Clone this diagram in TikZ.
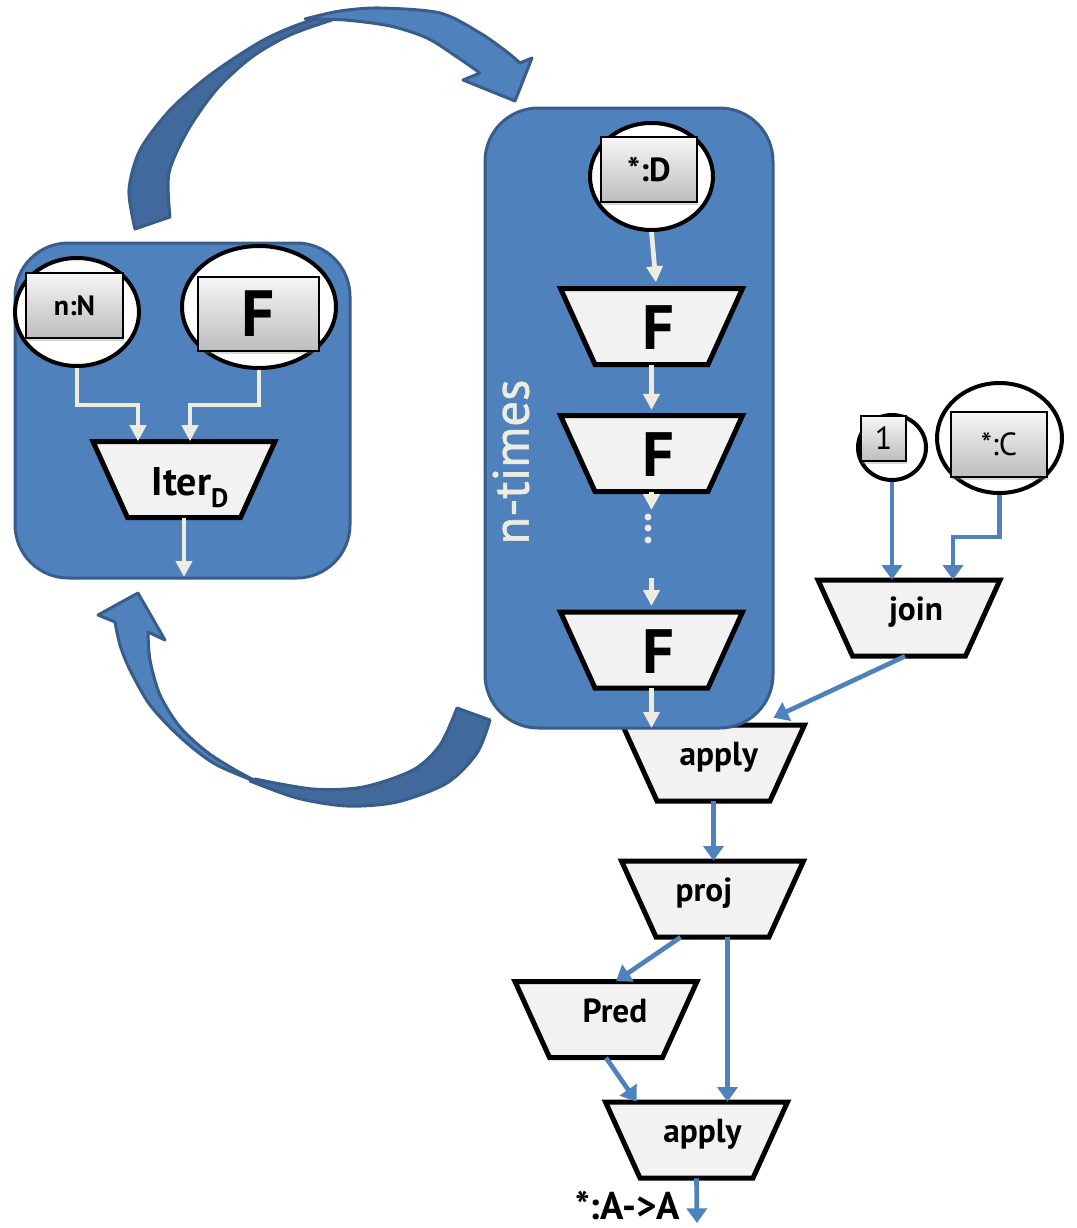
\documentclass[tikz,border=0pt]{standalone}
\usepackage{fontspec}
\setmainfont{PT Sans}
\newfontfamily\heavierfont[FakeBold=1.2]{PT Sans}
\usetikzlibrary{arrows.meta,calc,shapes.geometric,shadows}

\definecolor{boxblue}{HTML}{4F81BD}
\definecolor{boxedge}{HTML}{385D8A}
\definecolor{backblue}{HTML}{41699B}
\definecolor{paper}{HTML}{EEECE1}
\definecolor{trapgray}{HTML}{F2F2F2}
\definecolor{tagtop}{HTML}{F6F6F6}
\definecolor{tagbot}{HTML}{BDBDBD}

\tikzset{
  panel/.style={fill=boxblue, draw=boxedge, line width=2.25pt, rounded corners=40pt, inner sep=0pt},
  bandfront/.style={fill=boxblue, draw=boxedge, line width=2.25pt, line join=round},
  bandback/.style={fill=backblue, draw=boxedge, line width=2.25pt, line join=round},
  trapline/.style={fill=trapgray, draw=black, line width=3.75pt},
  trapbox/.style={minimum width=136.5pt, minimum height=57pt, inner sep=0pt,
                  text height=18pt, text depth=14pt, font=\fontsize{25}{30}\selectfont\bfseries},
  bigF/.style={text height=36pt, text depth=1pt, font=\fontsize{47}{50}\selectfont\bfseries},
  src/.style={ellipse, fill=white, draw=black, line width=3pt, inner sep=0pt},
  tag/.style={draw=black, line width=1.2pt, top color=tagtop, bottom color=tagbot, inner sep=0pt,
              drop shadow={opacity=0.3, shadow xshift=1pt, shadow yshift=-2pt}},
  lightflow/.style={draw=paper, line width=3.5pt, -{Triangle[length=12pt,width=12pt]}},
  blueflow/.style={draw=boxblue, line width=3.5pt, -{Triangle[length=11pt,width=15pt]}},
}

% trapezoid operator box: name, centre x, centre y, extra node options, label
\newcommand{\trapnode}[5]{%
  \draw[trapline] (#2-91,#3-38) -- (#2+91,#3-38) -- (#2+56.5,#3+38) -- (#2-56.5,#3+38) -- cycle;
  \node[trapbox,#4] (#1) at (#2,#3) {#5};}

\begin{document}
\begin{tikzpicture}[x=0.75pt,y=-0.75pt]
\useasboundingbox (0,0) rectangle (1076,1228);

% ---- upper curved arrow (left panel -> n-times panel)
\filldraw[bandback]
  plot[smooth] coordinates {(135,229) (129,190) (140,150) (170,110) (210,75) (260,42) (300,24) (345,12) (380,9)}
  -- plot[smooth] coordinates {(335,19) (290,35) (252,57) (217,89) (188,130) (169,173) (170,217)}
  -- cycle;
\filldraw[bandfront]
  plot[smooth] coordinates {(305,19) (340,11) (380,8) (440,13) (480,33) (507,52) (520,63)}
  -- (532,58) -- (515,101) -- (463,80)
  -- plot[smooth] coordinates {(480,73) (457,57) (427,38) (390,26) (345,20) (305,19)}
  -- cycle;

% ---- lower curved arrow (n-times panel -> left panel)
\filldraw[bandback]
  plot[smooth] coordinates {(490,720) (477,753) (447,783) (397,802) (347,806) (297,798) (250,781)}
  -- plot[smooth] coordinates {(255,779) (313,789) (363,787) (413,770) (440,745) (457,708)}
  -- cycle;
\filldraw[bandfront]
  plot[smooth] coordinates {(262,784) (215,764) (180,737) (150,705) (130,670) (120,645) (115,622)}
  -- (98,615) -- (138,593) -- (165,640)
  -- plot[smooth] coordinates {(148,632) (150,660) (160,695) (180,727) (207,752) (237,771) (262,784)}
  -- cycle;

% ---- left panel: Iter_D
\node[panel, minimum width=251.25pt, minimum height=251.25pt] (iterpanel) at (182.5,410.5) {};

\node[src, minimum width=93pt, minimum height=81pt] (nN) at (77,312) {};
\node[tag, minimum width=72.75pt, minimum height=48.75pt, font=\fontsize{21}{24}\selectfont\bfseries]
  (nNlab) at (74.5,305.5) {n:N};
\node[src, minimum width=115.5pt, minimum height=91.5pt] (Fe) at (259,307) {};
\node[tag, minimum width=90.75pt, minimum height=55.5pt, font=\fontsize{49}{52}\selectfont\bfseries]
  (Felab) at (258.5,314) {F};

\trapnode{iter}{184}{479.5}{text height=30pt, text depth=6.75pt, font=\fontsize{30}{36}\selectfont\bfseries}
  {\hspace*{9pt}Iter\raisebox{-9pt}{\fontsize{20}{24}\selectfont D}}

\draw[lightflow] (nN.south) -- ++(0,37) -| ($(iter.north)+(-46,0)$);
\draw[lightflow] (Fe.south) -- ++(0,35) -| ($(iter.north)+(6,0)$);
\coordinate (iterout) at (184,577);
\draw[lightflow] (iter.south) -- (iterout);

% ---- first apply sits partly under the n-times panel
\trapnode{apply1}{713.5}{763}{}{\hspace*{8pt}apply}

% ---- n-times panel
\node[panel, minimum width=216pt, minimum height=465pt] (looppanel) at (629,418) {};
\node[rotate=90, text=paper, font=\heavierfont\fontsize{38}{42}\selectfont] (ntimes) at (511,462) {n-times};

\node[src, minimum width=92.25pt, minimum height=80.25pt] (sD) at (651.5,176.5) {};
\node[tag, minimum width=72pt, minimum height=48.75pt, font=\fontsize{25}{28}\selectfont\bfseries]
  (sDlab) at (649,169.5) {*:D};

\trapnode{F1}{651.5}{326.5}{bigF}{\hspace*{10pt}F}
\trapnode{F2}{651.5}{453.5}{bigF}{\hspace*{10pt}F}
\trapnode{F3}{651.5}{650}{bigF}{\hspace*{10pt}F}

\draw[lightflow, shorten >=4.5pt] (sD.south) -- ($(F1.north)+(5,0)$);
\draw[lightflow, shorten >=4pt] (F1.south) -- (F2.north);
\coordinate (gapin) at (651.5,510);
\coordinate (gapout) at (651.5,578);
\coordinate (gapend) at (651.5,606);
\coordinate (loopout) at (651.5,728);
\draw[lightflow] (F2.south) -- (gapin);
\foreach \yy in {517,528,540} \fill[paper] (648,\yy) circle (2.6pt);
\draw[lightflow] (gapout) -- (gapend);
\draw[lightflow] (F3.south) -- (loopout);

% ---- right-hand inputs and join
\node[src, minimum width=51pt, minimum height=48.75pt] (one) at (892,447.5) {};
\node[tag, minimum width=33.75pt, minimum height=33.75pt, font=\fontsize{24}{26}\selectfont]
  (onelab) at (883.5,438.5) {1};
\node[src, minimum width=93.75pt, minimum height=82.5pt] (sC) at (999.5,438) {};
\node[tag, minimum width=72pt, minimum height=48.75pt, font=\fontsize{24}{27}\selectfont]
  (sClab) at (999,444.5) {*:C};

\trapnode{join}{909}{618}{}{\hspace*{10.5pt}join}

\draw[blueflow] (one.south) -- (one.south |- join.north);
\draw[blueflow] (sC.south) -- ++(0,42) -| ($(join.north)+(44,0)$);
\draw[blueflow] ($(join.south)+(-4,0)$) -- ($(apply1.north)+(60,-7)$);

% ---- lower chain
\trapnode{proj}{712.5}{899}{}{proj\hspace*{12.75pt}}
\trapnode{Pred}{606}{1019.5}{}{\hspace*{13.5pt}Pred}
\trapnode{apply2}{696.5}{1140}{}{\hspace*{9pt}apply}

\draw[blueflow] (apply1.south) -- (apply1.south |- proj.north);
\draw[blueflow] ($(proj.south)+(-32,0)$) -- ($(Pred.north)+(10,0)$);
\draw[blueflow] ($(proj.south)+(15,0)$) -- ($(apply2.north)+(31,0)$);
\draw[blueflow] (Pred.south) -- ($(apply2.north)+(-60,0)$);
\coordinate (result) at (697,1223);
\draw[blueflow] (apply2.south) -- (result);
\node[anchor=base east, inner sep=0pt, font=\fontsize{29}{32}\selectfont\bfseries] (restype) at (680,1219) {*:A->A};

\end{tikzpicture}
\end{document}
